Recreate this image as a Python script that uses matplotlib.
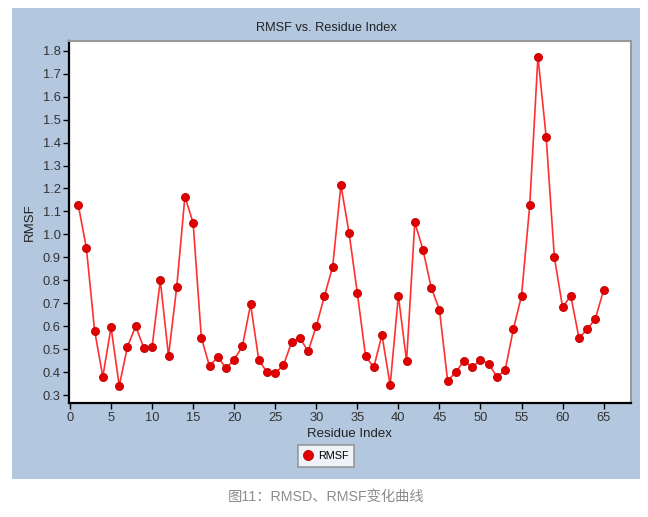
import matplotlib
matplotlib.use('Agg')
import matplotlib.pyplot as plt
from matplotlib.patches import Rectangle

# RMSF per residue
residue_index = list(range(1, 66))
rmsf = [1.13, 0.94, 0.58, 0.38, 0.595, 0.34, 0.51, 0.60, 0.505, 0.51,
        0.80, 0.47, 0.77, 1.165, 1.05, 0.55, 0.425, 0.467, 0.416, 0.454,
        0.513, 0.695, 0.452, 0.40, 0.395, 0.43, 0.53, 0.55, 0.49, 0.60,
        0.732, 0.86, 1.215, 1.005, 0.745, 0.47, 0.42, 0.562, 0.343, 0.732,
        0.448, 1.052, 0.933, 0.768, 0.672, 0.362, 0.40, 0.449, 0.42, 0.454,
        0.436, 0.38, 0.407, 0.586, 0.732, 1.126, 1.774, 1.426, 0.901, 0.683,
        0.732, 0.549, 0.586, 0.633, 0.757]

x_ticks = list(range(0, 70, 5))
y_ticks = [round(0.3 + 0.1 * i, 1) for i in range(16)]

W, H = 648, 517
plt.rcParams['font.family'] = ['Liberation Sans', 'DejaVu Sans']
fig = plt.figure(figsize=(W / 100, H / 100), dpi=100, facecolor='white')

# light blue panel behind the plot
fig.patches.append(Rectangle((12 / W, 1 - 478.6 / H), 628 / W, 470.6 / H,
                             transform=fig.transFigure, facecolor='#b3c7df',
                             edgecolor='none', zorder=-10))

ax = fig.add_axes([69 / W, 1 - 403.3 / H, (630.7 - 69) / W, (403.3 - 40.7) / H])
ax.set_zorder(5)
ax.set_facecolor('white')
ax.plot(residue_index, rmsf, color='#ff3030', linewidth=1.2,
        marker='o', markersize=5.8, markerfacecolor='#e00000',
        markeredgecolor='#c00000', markeredgewidth=0.6, label='RMSF')

ax.set_xlim(-0.12, 68.3)
ax.set_ylim(0.264, 1.844)
ax.set_xticks(x_ticks)
ax.set_yticks(y_ticks)
ax.set_yticklabels([f'{v:.1f}' for v in y_ticks])
ax.tick_params(labelsize=9.3, length=4, width=1, pad=2,
               colors='black', labelcolor='#333333')

ax.spines['left'].set_linewidth(1.6)
ax.spines['bottom'].set_linewidth(1.6)
ax.spines['top'].set_color('#999999')
ax.spines['right'].set_color('#999999')
ax.spines['top'].set_linewidth(1.5)
ax.spines['right'].set_linewidth(1.5)

ax.set_xlabel('Residue Index', fontsize=9.5, color='#222222', labelpad=3)
ax.set_ylabel('RMSF', fontsize=9.5, color='#222222', labelpad=5)

fig.text(326 / W, 1 - 27.7 / H, 'RMSF vs. Residue Index', ha='center', va='center',
         fontsize=9.2, color='#222222')

leg = ax.legend(loc='center', bbox_to_anchor=(326 / W, 1 - 456 / H),
                bbox_transform=fig.transFigure, fontsize=7.8, frameon=True,
                fancybox=False, handlelength=0.8, handletextpad=0.5,
                borderpad=0.55, borderaxespad=0, markerscale=1.25)
leg.get_frame().set_edgecolor('#888888')
leg.get_frame().set_linewidth(1.2)
for h in leg.get_lines():
    h.set_linestyle('none')

fig.text(326 / W, 1 - 497 / H, '图11：RMSD、RMSF变化曲线', ha='center', va='center',
         fontsize=10.3, color='#8c8c8c', family=['Liberation Sans', 'Noto Sans CJK SC'])

fig.savefig('out.png', dpi=100, facecolor='white')
plt.close(fig)
